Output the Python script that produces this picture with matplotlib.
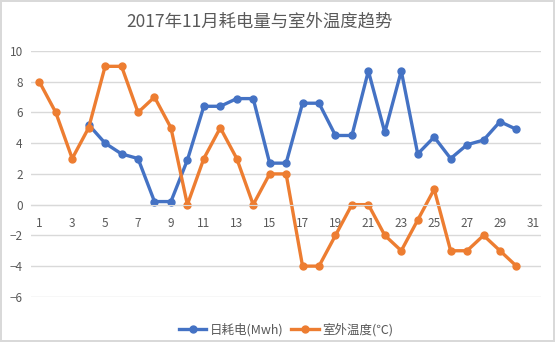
import numpy as np
import matplotlib.pyplot as plt

plt.rcParams['font.family'] = ['Noto Sans CJK SC', 'DejaVu Sans']

days = list(range(1, 32))
# daily power use (MWh); first three days and day 31 have no record
power = [np.nan, np.nan, np.nan, 5.2, 4.0, 3.3, 3.0, 0.2, 0.2, 2.9,
         6.4, 6.4, 6.9, 6.9, 2.7, 2.7, 6.6, 6.6, 4.5, 4.5,
         8.7, 4.7, 8.7, 3.3, 4.4, 3.0, 3.9, 4.2, 5.4, 4.9, np.nan]
# outdoor temperature (°C)
temp = [8, 6, 3, 5, 9, 9, 6, 7, 5, 0,
        3, 5, 3, 0, 2, 2, -4, -4, -2, 0,
        0, -2, -3, -1, 1, -3, -3, -2, -3, -4, np.nan]

BLUE = '#4472C4'
ORANGE = '#ED7D31'
GRID = '#d9d9d9'
TEXT = '#595959'

fig = plt.figure(figsize=(5.55, 3.42), dpi=100)
fig.patch.set_edgecolor(GRID)
fig.patch.set_linewidth(1.5)
ax = fig.add_axes([0.056, 0.132, 0.919, 0.719])

x = np.arange(len(days))
ax.plot(x, power, color=BLUE, lw=2.4, marker='o', ms=5, label='日耗电(Mwh)')
ax.plot(x, temp, color=ORANGE, lw=2.4, marker='o', ms=5, label='室外温度(℃)')

ax.set_xlim(-0.5, len(days) - 0.5)
ax.set_ylim(-6, 10)
ax.set_yticks(range(-6, 11, 2))
ax.set_xticks(x[::2])
ax.set_xticklabels([str(d) for d in days[::2]])
ax.tick_params(length=0, labelsize=8.5, labelcolor=TEXT)
ax.tick_params(axis='x', pad=9)
ax.tick_params(axis='y', pad=6)

ax.grid(axis='y', color=GRID, lw=1)
ax.set_axisbelow(True)
for s in ['top', 'right', 'left']:
    ax.spines[s].set_visible(False)
ax.spines['bottom'].set_position(('data', 0))
ax.spines['bottom'].set_color(GRID)

fig.suptitle('2017年11月耗电量与室外温度趋势', x=0.468, y=0.965,
             fontsize=12.5, color=TEXT)

ax.legend(loc='upper center', bbox_to_anchor=(0.5, -0.06), ncol=2, frameon=False,
          fontsize=9, labelcolor=TEXT, handlelength=2.2, columnspacing=0.6,
          handletextpad=0.3)

fig.savefig('out.png', dpi=100)
